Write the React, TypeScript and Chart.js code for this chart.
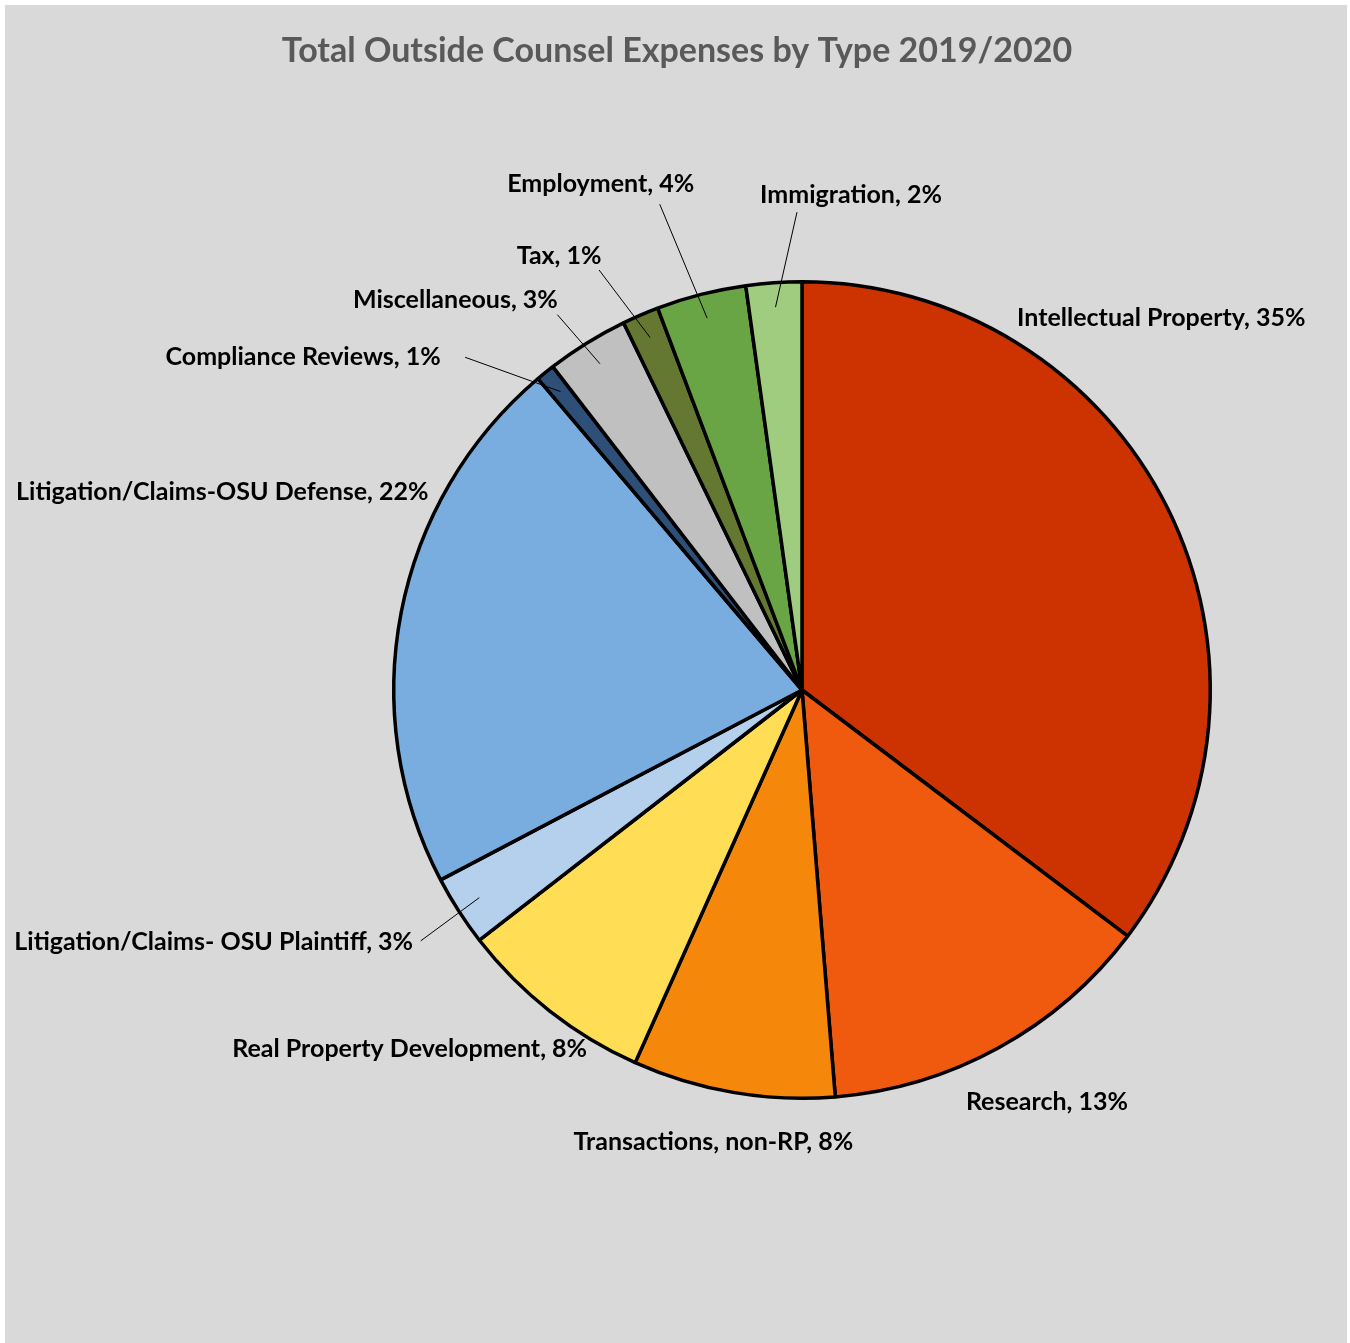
import React, { useEffect, useRef } from "react";
import { Chart, registerables } from "chart.js";

Chart.register(...registerables);

const TITLE = "Total Outside Counsel Expenses by Type 2019/2020";

const categories = [
  "Intellectual Property",
  "Research",
  "Transactions, non-RP",
  "Real Property Development",
  "Litigation/Claims- OSU Plaintiff",
  "Litigation/Claims-OSU Defense",
  "Compliance Reviews",
  "Miscellaneous",
  "Tax",
  "Employment",
  "Immigration",
];

const shares = [35.3, 13.4, 8.0, 7.8, 2.8, 21.5, 0.75, 3.25, 1.45, 3.55, 2.2];

const sliceColors = [
  "#cc3300",
  "#f05a0e",
  "#f5870a",
  "#ffdd55",
  "#b4d0ec",
  "#7aaddf",
  "#2e4f78",
  "#c0c0c0",
  "#647832",
  "#6aa545",
  "#a0cc80",
];

// label centre offsets relative to the pie centre, as fractions of the radius
const labelOffsets: [number, number][] = [
  [0.88, -0.912],
  [0.6, 1.01],
  [-0.217, 1.107],
  [-0.961, 0.878],
  [-1.441, 0.617],
  [-1.42, -0.485],
  [-1.222, -0.815],
  [-0.849, -0.956],
  [-0.595, -1.063],
  [-0.493, -1.239],
  [0.12, -1.212],
];

// leader line start relative to label centre (px); null = no leader line
const leaderStarts: ([number, number] | null)[] = [
  null,
  null,
  null,
  null,
  [207, -1],
  null,
  [162, 0],
  [102, 15],
  [40, 14],
  [59, 20],
  [-54, 17],
];

const FONT = "Lato, 'Open Sans', sans-serif";

const labelPlugin = {
  id: "pieLabels",
  afterDatasetsDraw(chart: any) {
    const ctx = chart.ctx;
    const meta = chart.getDatasetMeta(0);
    const total = shares.reduce((a, b) => a + b, 0);
    ctx.save();
    // title
    ctx.fillStyle = "#595959";
    ctx.font = `bold 34px ${FONT}`;
    ctx.textAlign = "center";
    ctx.textBaseline = "middle";
    ctx.fillText(TITLE, chart.width / 2 + 1, 46);

    meta.data.forEach((arc: any, i: number) => {
      const { x, y, outerRadius, startAngle, endAngle } = arc.getProps(
        ["x", "y", "outerRadius", "startAngle", "endAngle"],
        true
      );
      const lx = x + labelOffsets[i][0] * outerRadius;
      const ly = y + labelOffsets[i][1] * outerRadius;
      const ls = leaderStarts[i];
      if (ls) {
        const mid = (startAngle + endAngle) / 2;
        const ex = x + Math.cos(mid) * outerRadius * 0.94;
        const ey = y + Math.sin(mid) * outerRadius * 0.94;
        ctx.strokeStyle = "#000";
        ctx.lineWidth = 1;
        ctx.beginPath();
        ctx.moveTo(lx + ls[0], ly + ls[1]);
        ctx.lineTo(ex, ey);
        ctx.stroke();
      }
      const pct = Math.round((shares[i] / total) * 100);
      ctx.fillStyle = "#000";
      ctx.font = `bold 25px ${FONT}`;
      ctx.textAlign = "center";
      ctx.textBaseline = "middle";
      ctx.fillText(`${categories[i]}, ${pct}%`, lx, ly);
    });
    ctx.restore();
  },
};

export default function App() {
  const ref = useRef<HTMLCanvasElement>(null);
  useEffect(() => {
    if (!ref.current) return;
    const chart = new Chart(ref.current, {
      type: "pie",
      data: {
        labels: categories,
        datasets: [
          {
            data: shares,
            backgroundColor: sliceColors,
            borderColor: "#000000",
            borderWidth: 3.5,
          },
        ],
      },
      options: {
        responsive: false,
        animation: false,
        layout: { padding: { left: 387, top: 275, right: 135, bottom: 243 } },
        plugins: {
          legend: { display: false },
          tooltip: { enabled: false },
          title: { display: false },
        },
      },
      plugins: [labelPlugin],
    });
    return () => chart.destroy();
  }, []);
  return (
    <div
      style={{
        position: "absolute",
        left: 5,
        top: 5,
        width: 1342,
        height: 1338,
        background: "#d9d9d9",
      }}
    >
      <canvas ref={ref} width={1342} height={1338} style={{ display: "block" }} />
    </div>
  );
}
